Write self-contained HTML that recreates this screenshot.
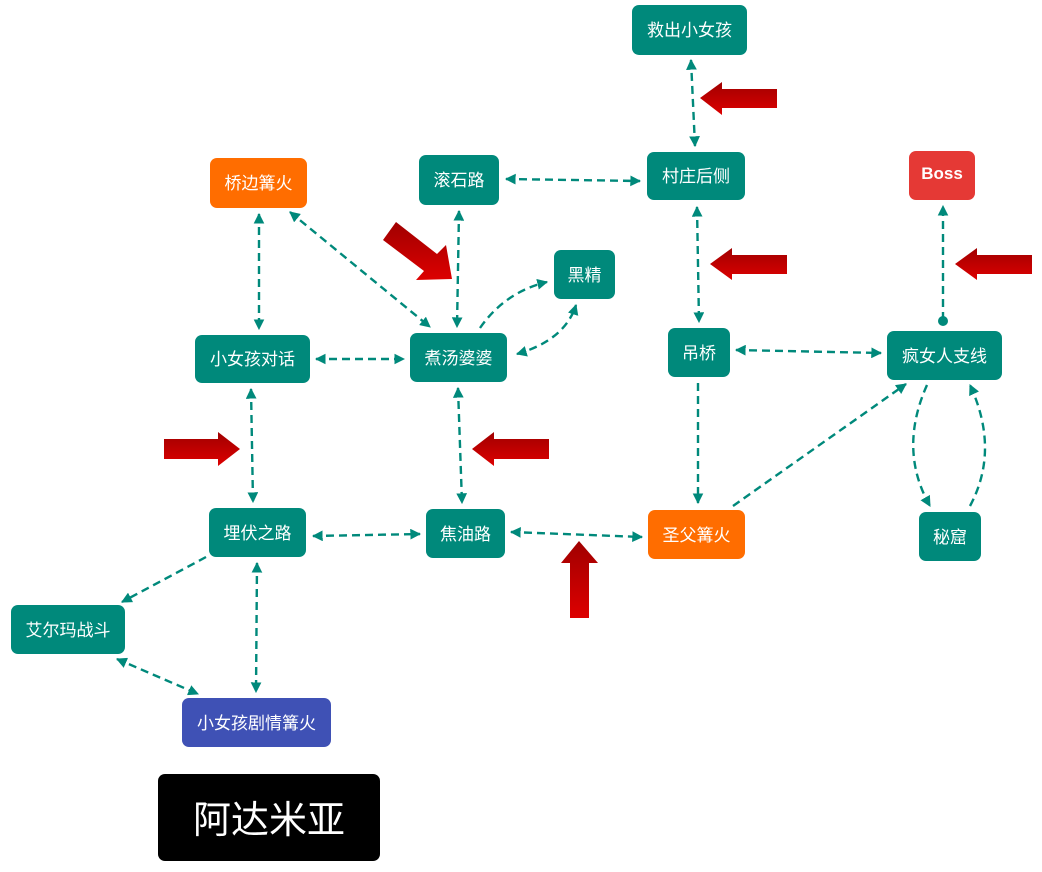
<!DOCTYPE html><html><head><meta charset="utf-8"><style>
body{margin:0;background:#fff;width:1042px;height:872px;overflow:hidden;font-family:"Liberation Sans","Noto Sans CJK SC",sans-serif}
.n{position:absolute;color:#fff;border-radius:7px;display:flex;align-items:center;justify-content:center;font-size:17px;background:#00897b;padding-bottom:3px;box-sizing:border-box}
svg{position:absolute;left:0;top:0}
</style></head><body>
<svg width="1042" height="872">
<defs>
<marker id="a" viewBox="0 0 10 10" refX="9" refY="5" markerWidth="4.5" markerHeight="4.5" orient="auto-start-reverse"><path d="M0,0L10,5L0,10z" fill="#00897b"/></marker>
<linearGradient id="g" x1="0" y1="0" x2="0" y2="1"><stop offset="0" stop-color="#a00000"/><stop offset="1" stop-color="#dd0000"/></linearGradient>
</defs>
<g stroke="#00897b" stroke-width="2.4" stroke-dasharray="8,5" fill="none" marker-start="url(#a)" marker-end="url(#a)">
<path d="M691 60L695 146"/>
<path d="M506 179L640 181"/>
<path d="M697 207L699 322"/>
<path d="M459 211L457 327"/>
<path d="M290 212L430 327"/>
<path d="M259 214L259 329"/>
<path d="M316 359L404 359"/>
<path d="M736 350L881 353"/>
<path d="M251 389L253 502"/>
<path d="M458 388L462 503"/>
<path d="M313 536L420 534"/>
<path d="M511 532L642 537"/>
<path d="M257 563L256 692"/>
<path d="M117 659L198 694"/>
<path d="M517 354Q565 340 576 305"/>
</g>
<g stroke="#00897b" stroke-width="2.4" stroke-dasharray="8,5" fill="none" marker-end="url(#a)">
<path d="M206 557L122 602"/>
<path d="M698 383L698 503"/>
<path d="M733 506L906 384"/>
<path d="M480 328Q505 292 547 282"/>
<path d="M927 385Q898 450 930 506"/>
<path d="M970 506Q1000 450 970 385"/>
<path d="M943 320L943 206"/>
</g>
<circle cx="943" cy="321" r="5" fill="#00897b"/>
<g fill="url(#g)">
<path d="M700 98L722 82L722 89L777 89L777 108L722 108L722 115z"/>
<path d="M710 264L732 248L732 255L787 255L787 274L732 274L732 280z"/>
<path d="M955 264L977 248L977 255L1032 255L1032 274L977 274L977 280z"/>
<path d="M472 449L494 432L494 439L549 439L549 459L494 459L494 466z"/>
<path d="M240 449L218 432L218 439L164 439L164 459L218 459L218 466z"/>
<path d="M579 541L598 563L589 563L589 618L570 618L570 563L561 563z"/>
<path d="M452 279L446 245L437 254L396 222L383 240L424 271L416 280z"/>
</g>
</svg>
<div class="n" style="left:632px;top:5px;width:115px;height:50px">救出小女孩</div>
<div class="n" style="left:419px;top:155px;width:80px;height:50px">滚石路</div>
<div class="n" style="left:647px;top:152px;width:98px;height:48px">村庄后侧</div>
<div class="n" style="left:210px;top:158px;width:97px;height:50px;background:#ff6d00">桥边篝火</div>
<div class="n" style="left:909px;top:151px;width:66px;height:49px;background:#e53935;font-weight:bold">Boss</div>
<div class="n" style="left:554px;top:250px;width:61px;height:49px">黑精</div>
<div class="n" style="left:195px;top:335px;width:115px;height:48px">小女孩对话</div>
<div class="n" style="left:410px;top:333px;width:97px;height:49px">煮汤婆婆</div>
<div class="n" style="left:668px;top:328px;width:62px;height:49px">吊桥</div>
<div class="n" style="left:887px;top:331px;width:115px;height:49px">疯女人支线</div>
<div class="n" style="left:209px;top:508px;width:97px;height:49px">埋伏之路</div>
<div class="n" style="left:426px;top:509px;width:79px;height:49px">焦油路</div>
<div class="n" style="left:648px;top:510px;width:97px;height:49px;background:#ff6d00">圣父篝火</div>
<div class="n" style="left:919px;top:512px;width:62px;height:49px">秘窟</div>
<div class="n" style="left:11px;top:605px;width:114px;height:49px">艾尔玛战斗</div>
<div class="n" style="left:182px;top:698px;width:149px;height:49px;background:#3f51b5">小女孩剧情篝火</div>
<div class="n" style="left:158px;top:774px;width:222px;height:87px;background:#000;font-size:38px">阿达米亚</div>
</body></html>
